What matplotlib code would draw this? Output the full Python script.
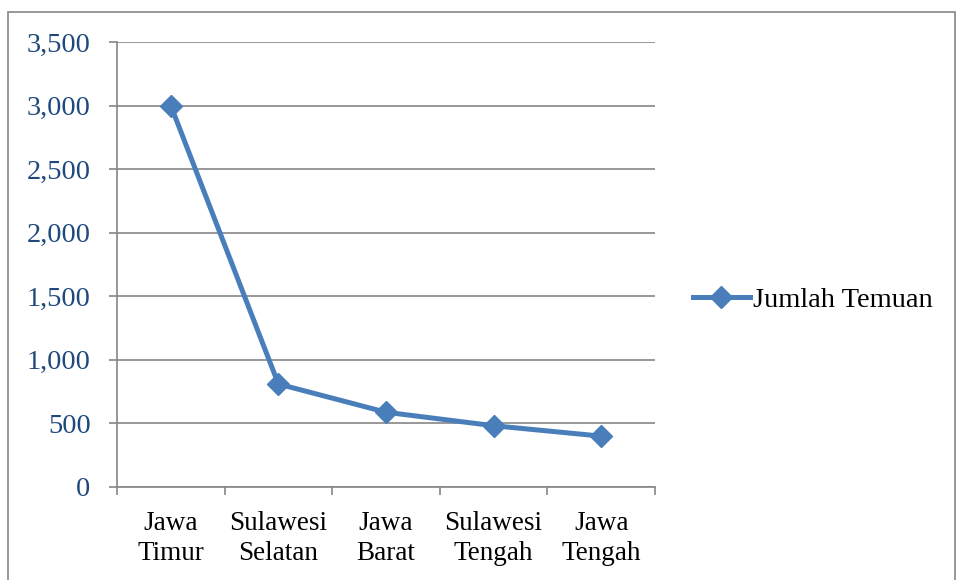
import matplotlib.pyplot as plt
from matplotlib.patches import Rectangle

provinsi = ['Jawa\nTimur', 'Sulawesi\nSelatan', 'Jawa\nBarat', 'Sulawesi\nTengah', 'Jawa\nTengah']
jumlah_temuan = [3000, 810, 588, 482, 400]
y_ticks = [0, 500, 1000, 1500, 2000, 2500, 3000, 3500]

plt.rcParams['font.family'] = ['Liberation Serif', 'DejaVu Serif']

fig = plt.figure(figsize=(9.58, 5.8), dpi=100)
ax = fig.add_axes([117 / 958, 1 - 487 / 580, (655 - 117) / 958, (487 - 42) / 580])

grid_col = '#868686'
biru = '#4A7EBB'

x = list(range(len(provinsi)))
line, = ax.plot(x, jumlah_temuan, color=biru, lw=3.6, marker='D', ms=11.5,
                markerfacecolor=biru, markeredgecolor=biru, zorder=3,
                label='Jumlah Temuan')

ax.set_xlim(-0.5, len(provinsi) - 0.5)
ax.set_ylim(0, 3500)
ax.set_yticks(y_ticks)
ax.set_yticklabels([f'{v:,}' for v in y_ticks], color='#1F497D', fontsize=20.5)
ax.yaxis.grid(True, color=grid_col, lw=1.2)
ax.set_axisbelow(True)

# kategori di tengah, garis tick di batas kategori
ax.set_xticks(x)
ax.set_xticklabels(provinsi, fontsize=19.5, linespacing=1.27)
ax.tick_params(axis='x', which='major', length=0, pad=17)
ax.set_xticks([i - 0.5 for i in range(len(provinsi) + 1)], minor=True)
ax.tick_params(axis='x', which='minor', length=6, width=1.2, color=grid_col)
ax.tick_params(axis='y', length=6, width=1.2, color=grid_col, pad=13)

for side in ['top', 'right']:
    ax.spines[side].set_visible(False)
for side in ['left', 'bottom']:
    ax.spines[side].set_color(grid_col)
    ax.spines[side].set_linewidth(1.2)

fig.legend(handles=[line], loc='center left', bbox_to_anchor=(693 / 958, 1 - 300 / 580),
           frameon=False, fontsize=20.5, handlelength=2.0, handletextpad=0.1,
           borderaxespad=0, borderpad=0)

# bingkai luar
fig.patches.append(Rectangle((8 / 958, -0.05), 947 / 958, 1.05 - 12 / 580,
                             transform=fig.transFigure, fill=False,
                             edgecolor=grid_col, lw=1.2))

fig.savefig('out.png', dpi=100)
